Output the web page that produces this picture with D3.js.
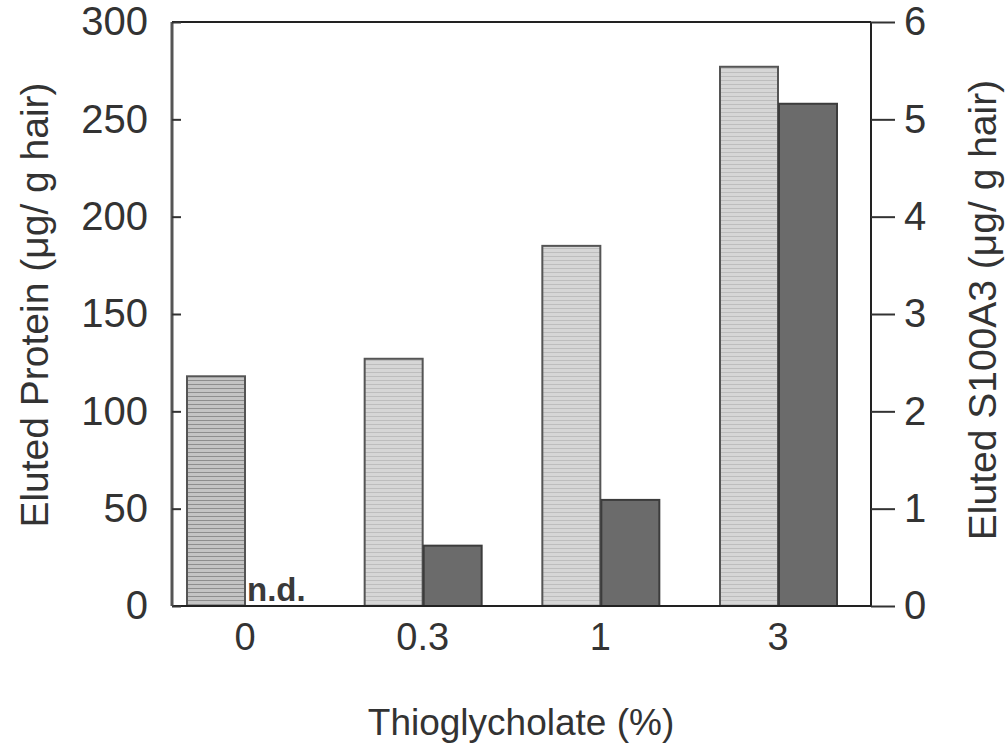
<!DOCTYPE html>
<html>
<head>
<meta charset="utf-8">
<script src="https://cdn.jsdelivr.net/npm/d3@7"></script>
<style>
  body { margin: 0; background: #fff; }
  text { font-family: "Liberation Sans", Arial, sans-serif; fill: #333; }
</style>
</head>
<body>
<svg id="chart"></svg>
<script>
// data
var categories = ["0", "0.3", "1", "3"];
var proteinValues = [118, 127, 185, 277];      // left axis, ug/g hair
var s100a3Values = [null, 0.62, 1.09, 5.16];   // right axis, ug/g hair (null = n.d.)
var leftTicks = [0, 50, 100, 150, 200, 250, 300];
var rightTicks = [0, 1, 2, 3, 4, 5, 6];

var width = 1006, height = 752;
var margin = {top: 22, right: 135, bottom: 146, left: 172};

var svg = d3.select("#chart")
  .attr("width", width)
  .attr("height", height);

// hatch patterns
var defs = svg.append("defs");
function hatch(id, bg, line, step) {
  var p = defs.append("pattern")
    .attr("id", id)
    .attr("patternUnits", "userSpaceOnUse")
    .attr("width", 8).attr("height", step);
  p.append("rect").attr("width", 8).attr("height", step).attr("fill", bg);
  p.append("line").attr("x1", 0).attr("x2", 8).attr("y1", 0.5).attr("y2", 0.5)
    .attr("stroke", line).attr("stroke-width", 1);
}
hatch("hatchLight", "#d6d6d6", "#bdbdbd", 4);
hatch("hatchDark", "#c4c4c4", "#8e8e8e", 4);

var x = d3.scalePoint()
  .domain(categories)
  .range([245, 778]);
var barW = 58;

var yL = d3.scaleLinear().domain([0, 300]).range([height - margin.bottom, margin.top]);
var yR = d3.scaleLinear().domain([0, 6]).range([height - margin.bottom, margin.top]);

var x0 = margin.left, x1 = width - margin.right;
var y0 = height - margin.bottom;

// protein bars (light, hatched)
svg.selectAll("rect.protein")
  .data(proteinValues)
  .enter()
  .append("rect")
    .attr("class", "protein")
    .attr("x", function(d, i){ return x(categories[i]) - barW; })
    .attr("y", function(d){ return yL(d); })
    .attr("width", barW)
    .attr("height", function(d){ return y0 - yL(d); })
    .attr("fill", function(d, i){ return i === 0 ? "url(#hatchDark)" : "url(#hatchLight)"; })
    .attr("stroke", "#555")
    .attr("stroke-width", 2);

// S100A3 bars (dark)
var s100 = s100a3Values.map(function(v, i){ return {cat: categories[i], v: v}; })
  .filter(function(d){ return d.v !== null; });
svg.selectAll("rect.s100")
  .data(s100)
  .enter()
  .append("rect")
    .attr("class", "s100")
    .attr("x", function(d){ return x(d.cat) + 1; })
    .attr("y", function(d){ return yR(d.v); })
    .attr("width", barW)
    .attr("height", function(d){ return y0 - yR(d.v); })
    .attr("fill", "#6b6b6b")
    .attr("stroke", "#3c3c3c")
    .attr("stroke-width", 2);

// n.d. label
svg.append("text")
  .attr("x", x("0") + 2)
  .attr("y", y0 - 5)
  .attr("font-size", "33px")
  .attr("font-weight", "bold")
  .style("fill", "#3a3a3a")
  .text("n.d.");

// frame
svg.append("line").attr("x1", x0).attr("x2", x1).attr("y1", margin.top).attr("y2", margin.top)
  .attr("stroke", "#222").attr("stroke-width", 2);
svg.append("line").attr("x1", x0).attr("x2", x1).attr("y1", y0).attr("y2", y0)
  .attr("stroke", "#222").attr("stroke-width", 2);
svg.append("line").attr("x1", x0).attr("x2", x0).attr("y1", margin.top).attr("y2", y0)
  .attr("stroke", "#555").attr("stroke-width", 3);
svg.append("line").attr("x1", x1).attr("x2", x1).attr("y1", margin.top).attr("y2", y0)
  .attr("stroke", "#222").attr("stroke-width", 2);

// left axis: inward ticks
var leftAxis = svg.append("g")
  .attr("transform", "translate(" + x0 + ",0)")
  .call(d3.axisLeft(yL).tickValues(leftTicks).tickSize(-9).tickPadding(24).tickFormat(d3.format("d")));
leftAxis.select(".domain").remove();
leftAxis.selectAll("line").attr("stroke", "#333").attr("stroke-width", 2);
leftAxis.selectAll("text")
  .attr("font-size", "40px")
  .attr("font-family", "Liberation Sans, Arial, sans-serif")
  .style("fill", "#333");

// right axis: outward ticks
var rightAxis = svg.append("g")
  .attr("transform", "translate(" + x1 + ",0)")
  .call(d3.axisRight(yR).tickValues(rightTicks).tickSize(24).tickPadding(9).tickFormat(d3.format("d")));
rightAxis.select(".domain").remove();
rightAxis.selectAll("line").attr("stroke", "#333").attr("stroke-width", 2);
rightAxis.selectAll("text")
  .attr("font-size", "40px")
  .attr("font-family", "Liberation Sans, Arial, sans-serif")
  .style("fill", "#333");

// category labels
svg.selectAll("text.cat")
  .data(categories)
  .enter()
  .append("text")
    .attr("class", "cat")
    .attr("x", function(d){ return x(d); })
    .attr("y", 650)
    .attr("text-anchor", "middle")
    .attr("font-size", "38px")
    .text(function(d){ return d; });

// axis titles
svg.append("text")
  .attr("x", 521).attr("y", 735)
  .attr("text-anchor", "middle")
  .attr("font-size", "37px")
  .text("Thioglycholate (%)");

svg.append("text")
  .attr("transform", "translate(48,305) rotate(-90)")
  .attr("text-anchor", "middle")
  .attr("font-size", "39px")
  .text("Eluted Protein (μg/ g hair)");

svg.append("text")
  .attr("transform", "translate(996,310) rotate(-90)")
  .attr("text-anchor", "middle")
  .attr("font-size", "39px")
  .text("Eluted S100A3 (μg/ g hair)");
</script>
</body>
</html>
